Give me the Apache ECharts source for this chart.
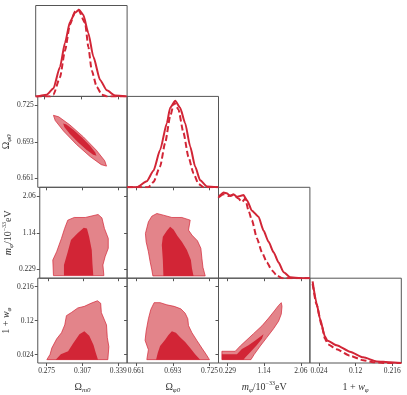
<!DOCTYPE html>
<html>
<head>
<meta charset="utf-8">
<script src="https://cdn.jsdelivr.net/npm/echarts@6/dist/echarts.min.js"></script>
<style>
  html, body { margin: 0; padding: 0; background: #fff; }
  #chart { width: 407px; height: 395px; }
</style>
</head>
<body>
<div id="chart"></div>
<script>
// tick labels of each parameter
const omTicks = [0.275, 0.307, 0.339]
const ophiTicks = [0.661, 0.693, 0.725]
const mTicks = [0.229, 1.14, 2.06]
const wTicks = [0.024, 0.12, 0.216]

// axis ranges
const omRange = [0.2671, 0.3469]
const ophiRange = [0.6531, 0.7329]
const mRange = [0.003, 2.286]
const wRange = [0.0003, 0.2397]

// 1D marginals [value, relative density]
const omSolid = [[0.2671, 0], [0.268, 0], [0.2767, 0.02], [0.2825, 0.09], [0.2883, 0.34], [0.2927, 0.62], [0.297, 0.86],
  [0.3014, 0.965], [0.3049, 1], [0.3087, 0.94], [0.3131, 0.73], [0.3174, 0.46], [0.3233, 0.19], [0.3292, 0.07],
  [0.3364, 0.01], [0.3466, 0]]
const omDashed = [[0.2671, 0], [0.2796, 0], [0.2825, 0.02], [0.2883, 0.22], [0.2927, 0.53], [0.297, 0.83], [0.3014, 0.98],
  [0.3043, 1], [0.3102, 0.85], [0.3131, 0.57], [0.316, 0.3], [0.3204, 0.11], [0.3248, 0.02], [0.3292, 0], [0.3466, 0]]

const ophiSolid = [[0.6531, 0], [0.6616, 0], [0.6703, 0.07], [0.6761, 0.19], [0.6819, 0.43], [0.6878, 0.74], [0.6907, 0.92],
  [0.6951, 1], [0.6994, 0.92], [0.7038, 0.74], [0.7082, 0.47], [0.7125, 0.24], [0.7169, 0.08], [0.7228, 0.01], [0.7326, 0]]
const ophiDashed = [[0.6531, 0], [0.6717, 0], [0.6761, 0.06], [0.6819, 0.24], [0.6863, 0.51], [0.6907, 0.82], [0.6942, 0.98],
  [0.6979, 0.9], [0.7023, 0.63], [0.7067, 0.35], [0.7111, 0.16], [0.7154, 0.04], [0.7198, 0], [0.7326, 0]]

const mSolid = [[0.003, 0.93], [0.045, 0.96], [0.128, 0.99], [0.213, 0.98], [0.296, 0.95], [0.378, 0.97], [0.463, 0.94],
  [0.546, 0.95], [0.628, 0.96], [0.713, 0.9], [0.838, 0.78], [1.003, 0.71], [1.128, 0.55], [1.254, 0.42],
  [1.379, 0.3], [1.504, 0.18], [1.629, 0.07], [1.796, 0.01], [2.046, 0], [2.286, 0]]
const mDashed = [[0.028, 0.94], [0.128, 0.97], [0.253, 0.95], [0.378, 0.96], [0.503, 0.92], [0.588, 0.88], [0.671, 0.92],
  [0.753, 0.78], [0.838, 0.67], [0.963, 0.46], [1.088, 0.3], [1.213, 0.18], [1.339, 0.09], [1.464, 0.03],
  [1.589, 0], [2.286, 0]]

const wSolid = [[0.0074, 1.01], [0.0179, 0.74], [0.0265, 0.55], [0.0396, 0.33], [0.0457, 0.28], [0.0703, 0.22],
  [0.1052, 0.14], [0.14, 0.07], [0.1752, 0.02], [0.2101, 0.01], [0.2397, 0]]
const wDashed = [[0.0074, 0.98], [0.0179, 0.72], [0.031, 0.47], [0.0396, 0.3], [0.0483, 0.23], [0.0703, 0.17],
  [0.1052, 0.09], [0.14, 0.035], [0.1663, 0.01], [0.1925, 0], [0.2397, 0]]

// 2D contours [x, y], outer = 95%, inner = 68%
const omOphiOuter = [[0.3285, 0.6717], [0.3269, 0.6764], [0.3194, 0.6857], [0.3079, 0.6973], [0.2956, 0.708],
  [0.2858, 0.715], [0.2811, 0.7163], [0.2827, 0.7117], [0.2903, 0.7023], [0.3017, 0.6907], [0.314, 0.68],
  [0.3238, 0.673]]
const omOphiInner = [[0.3195, 0.6807], [0.3185, 0.6837], [0.3138, 0.6895], [0.3066, 0.6969], [0.2989, 0.7037],
  [0.2927, 0.7082], [0.2898, 0.709], [0.2908, 0.7061], [0.2956, 0.7002], [0.3028, 0.6929], [0.3105, 0.6861],
  [0.3166, 0.6816]]

const omMOuter = [[0.2796, 0.068], [0.279, 0.46], [0.2825, 0.668], [0.2869, 1.003], [0.2898, 1.253], [0.2927, 1.461],
  [0.2986, 1.528], [0.3087, 1.528], [0.3204, 1.603], [0.3239, 1.518], [0.3262, 1.253], [0.3297, 1.003],
  [0.3297, 0.753], [0.3268, 0.543], [0.3248, 0.335], [0.3257, 0.068]]
const omMInner = [[0.2892, 0.068], [0.2892, 0.335], [0.2927, 0.668], [0.2956, 0.961], [0.3014, 1.128], [0.3073, 1.268],
  [0.3102, 1.253], [0.3122, 1.043], [0.3146, 0.71], [0.3152, 0.378], [0.316, 0.068]]

const omWOuter = [[0.2752, 0.0098], [0.2781, 0.0247], [0.2796, 0.0423], [0.284, 0.0685], [0.2883, 0.0858],
  [0.2912, 0.1078], [0.2927, 0.134], [0.2971, 0.1427], [0.3029, 0.1558], [0.3087, 0.1602], [0.3146, 0.1689],
  [0.3204, 0.176], [0.3233, 0.1689], [0.3239, 0.1427], [0.3285, 0.1078], [0.3292, 0.0727], [0.3306, 0.0465],
  [0.3297, 0.0098]]
const omWInner = [[0.2831, 0.0098], [0.2877, 0.0247], [0.2942, 0.0333], [0.2986, 0.0554], [0.3043, 0.0816],
  [0.3087, 0.0902], [0.3131, 0.0772], [0.3169, 0.0509], [0.3189, 0.0291], [0.3209, 0.0098]]

const ophiMOuter = [[0.6756, 0.06], [0.6747, 0.21], [0.6732, 0.418], [0.6717, 0.668], [0.6697, 0.918], [0.6691, 1.128],
  [0.6717, 1.418], [0.6747, 1.561], [0.6791, 1.628], [0.6848, 1.586], [0.6922, 1.528], [0.7009, 1.528],
  [0.7082, 1.461], [0.7067, 1.211], [0.7097, 1.086], [0.7145, 0.943], [0.7175, 0.753], [0.7184, 0.503],
  [0.7193, 0.278], [0.7213, 0.06]]
const ophiMInner = [[0.6848, 0.06], [0.6843, 0.46], [0.6834, 0.835], [0.6843, 1.043], [0.6878, 1.193], [0.6907, 1.293],
  [0.6936, 1.228], [0.6971, 1.061], [0.7009, 0.918], [0.7053, 0.71], [0.7088, 0.46], [0.7097, 0.253], [0.7111, 0.06]]

const ophiWOuter = [[0.6703, 0.0098], [0.6717, 0.0378], [0.6688, 0.064], [0.6697, 0.0902], [0.6717, 0.1251],
  [0.6738, 0.1513], [0.6767, 0.1707], [0.6819, 0.1707], [0.6878, 0.1645], [0.6942, 0.1602], [0.7, 0.1532],
  [0.7038, 0.1409], [0.7061, 0.1251], [0.7067, 0.106], [0.7097, 0.0858], [0.714, 0.064], [0.7184, 0.0423],
  [0.7221, 0.0247], [0.725, 0.0098]]
const ophiWInner = [[0.6784, 0.0098], [0.6799, 0.0291], [0.6819, 0.0483], [0.6863, 0.0658], [0.6892, 0.079],
  [0.6922, 0.0902], [0.6957, 0.0858], [0.6994, 0.0727], [0.7038, 0.0596], [0.7082, 0.0423], [0.7125, 0.0247],
  [0.7169, 0.0098]]

const mWOuter = [[0.088, 0.0334], [0.421, 0.0334], [0.546, 0.0483], [0.713, 0.0658], [0.878, 0.0832], [1.088, 0.1052],
  [1.254, 0.127], [1.396, 0.1471], [1.504, 0.1629], [1.571, 0.1707], [1.589, 0.1602], [1.571, 0.1383],
  [1.504, 0.1183], [1.379, 0.0973], [1.213, 0.0727], [1.046, 0.0483], [0.896, 0.0247], [0.813, 0.0098],
  [0.088, 0.0098]]
const mWInner = [[0.088, 0.0247], [0.463, 0.0247], [0.588, 0.0396], [0.753, 0.0501], [0.921, 0.064], [1.128, 0.0816],
  [1.088, 0.0685], [0.963, 0.0509], [0.796, 0.0308], [0.671, 0.0161], [0.628, 0.0098], [0.088, 0.0098]]

const RED = '#d22536'
const LIGHT = '#e3848a'
const FRAME = '#555'
const SERIF = '"Liberation Serif", "DejaVu Serif", serif'

const params = [
  { range: omRange, ticks: omTicks, name: '{b|Ω}{s|m0}', solid: omSolid, dashed: omDashed },
  { range: ophiRange, ticks: ophiTicks, name: '{b|Ω}{s|φ0}', solid: ophiSolid, dashed: ophiDashed },
  { range: mRange, ticks: mTicks, name: '{i|m}{s|φ}{b|/10}{p|−33}{b|eV}', solid: mSolid, dashed: mDashed },
  { range: wRange, ticks: wTicks, name: '{b|1 + }{i|w}{s|φ}', solid: wSolid, dashed: wDashed }
]

const contours = {
  '1,0': [omOphiOuter, omOphiInner],
  '2,0': [omMOuter, omMInner],
  '3,0': [omWOuter, omWInner],
  '2,1': [ophiMOuter, ophiMInner],
  '3,1': [ophiWOuter, ophiWInner],
  '3,2': [mWOuter, mWInner]
}

const nameRich = {
  b: { fontFamily: SERIF, fontSize: 10, lineHeight: 14, color: '#333' },
  i: { fontFamily: SERIF, fontSize: 10, fontStyle: 'italic', lineHeight: 14, color: '#333' },
  s: { fontFamily: SERIF, fontSize: 7, fontStyle: 'italic', lineHeight: 14, verticalAlign: 'bottom', color: '#333' },
  p: { fontFamily: SERIF, fontSize: 6, lineHeight: 14, verticalAlign: 'top', color: '#333' }
}

const grids = []
const xAxes = []
const yAxes = []
const series = []

function polygon(poly, idx, fill, stroke) {
  return {
    type: 'custom',
    coordinateSystem: 'cartesian2d',
    xAxisIndex: idx,
    yAxisIndex: idx,
    silent: true,
    data: [poly[0]],
    renderItem: (p, api) => ({
      type: 'polygon',
      shape: { points: poly.map(pt => api.coord(pt)) },
      style: { fill: fill, stroke: stroke, lineWidth: stroke ? 0.7 : 0 }
    })
  }
}

let k = 0
for (let r = 0; r < 4; r++) {
  for (let c = 0; c <= r; c++) {
    const px = params[c]
    grids.push({
      left: 35.7 + c * 91.4, top: 5.5 + r * 90.9, width: 91.4, height: 90.9,
      show: true, borderColor: FRAME, borderWidth: 1, backgroundColor: 'transparent'
    })
    xAxes.push({
      gridIndex: k, type: 'value', min: px.range[0], max: px.range[1],
      axisLine: { show: false },
      splitLine: { show: false },
      axisTick: { show: true, length: 3, lineStyle: { color: FRAME }, customValues: px.ticks },
      axisLabel: {
        show: r === 3, customValues: px.ticks, margin: 4,
        fontFamily: SERIF, fontSize: 7.5, color: '#333'
      },
      name: r === 3 ? px.name : '', nameLocation: 'middle', nameGap: 17,
      nameTextStyle: { rich: nameRich }
    })
    if (r === c) {
      yAxes.push({
        gridIndex: k, type: 'value', min: 0, max: 1.05,
        axisLine: { show: false }, splitLine: { show: false },
        axisTick: { show: false }, axisLabel: { show: false }
      })
      series.push({
        type: 'line', xAxisIndex: k, yAxisIndex: k, data: px.solid, symbol: 'none',
        smooth: 0.2, smoothMonotone: 'x', silent: true,
        lineStyle: { color: RED, width: 2 }
      })
      series.push({
        type: 'line', xAxisIndex: k, yAxisIndex: k, data: px.dashed, symbol: 'none',
        smooth: 0.2, smoothMonotone: 'x', silent: true,
        lineStyle: { color: RED, width: 2, type: [6, 3] }
      })
    } else {
      const py = params[r]
      yAxes.push({
        gridIndex: k, type: 'value', min: py.range[0], max: py.range[1],
        axisLine: { show: false }, splitLine: { show: false },
        axisTick: { show: true, length: 3, lineStyle: { color: FRAME }, customValues: py.ticks },
        axisLabel: {
          show: c === 0, customValues: py.ticks, margin: 4,
          fontFamily: SERIF, fontSize: 7.5, color: '#333'
        },
        name: c === 0 ? py.name : '', nameLocation: 'middle', nameGap: 22, nameRotate: 90,
        nameTextStyle: { rich: nameRich }
      })
      const cs = contours[r + ',' + c]
      series.push(polygon(cs[0], k, LIGHT, RED))
      series.push(polygon(cs[1], k, RED, null))
    }
    k++
  }
}

const chart = echarts.init(document.getElementById('chart'))
chart.setOption({
  animation: false,
  backgroundColor: '#fff',
  grid: grids,
  xAxis: xAxes,
  yAxis: yAxes,
  series: series
})
</script>
</body>
</html>
